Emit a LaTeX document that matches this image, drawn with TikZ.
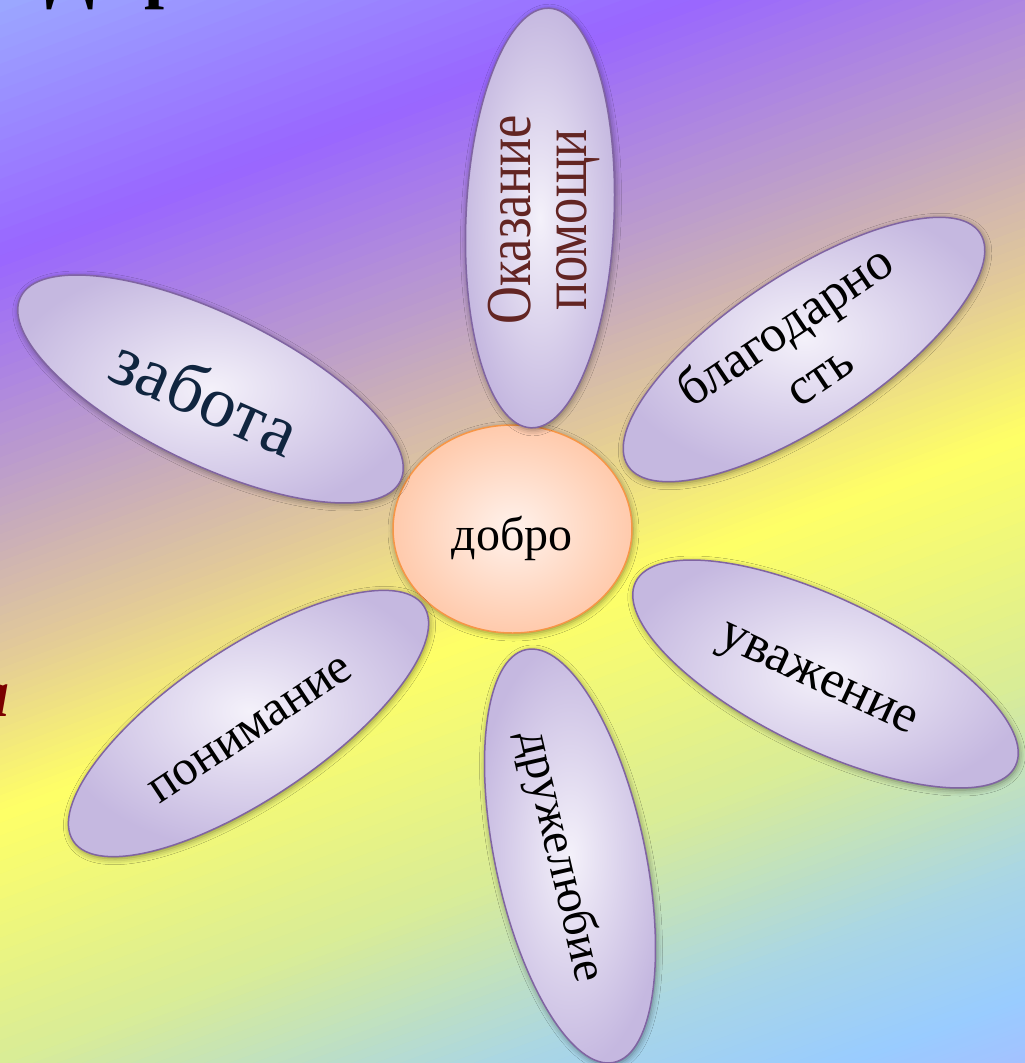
\documentclass[tikz,border=0pt]{standalone}
\usepackage{fontspec}
\setmainfont{Liberation Serif}
\newfontfamily\narrowserif[FakeStretch=0.82]{Liberation Serif}
\usetikzlibrary{shapes.geometric, shadows.blur}
\definecolor{bgA}{RGB}{155,168,255}
\definecolor{bgB}{RGB}{153,102,255}
\definecolor{bgC}{RGB}{190,160,200}
\definecolor{bgD}{RGB}{228,204,150}
\definecolor{bgE}{RGB}{255,255,102}
\definecolor{bgF}{RGB}{216,236,152}
\definecolor{bgG}{RGB}{170,214,228}
\definecolor{bgH}{RGB}{153,204,255}
\definecolor{bgI}{RGB}{168,188,255}
\definecolor{petalIn}{RGB}{244,241,250}
\definecolor{petalOut}{RGB}{197,184,224}
\definecolor{petalEdge}{RGB}{128,100,162}
\definecolor{heartIn}{RGB}{255,242,236}
\definecolor{heartOut}{RGB}{255,202,172}
\definecolor{heartEdge}{RGB}{247,150,70}
\definecolor{xNavy}{RGB}{16,37,63}
\definecolor{xBrown}{RGB}{99,37,35}
\definecolor{xMaroon}{RGB}{122,0,0}
\tikzset{
  petal/.style={ellipse, draw=petalEdge, line width=1.5pt, inner color=petalIn, outer color=petalOut,
                minimum width=422pt, minimum height=150pt, inner sep=0pt,
                blur shadow={shadow xshift=1pt, shadow yshift=-2pt, shadow blur radius=6pt, shadow opacity=45}},
  heart/.style={ellipse, draw=heartEdge, line width=1.5pt, inner color=heartIn, outer color=heartOut,
                minimum width=239pt, minimum height=208pt, inner sep=0pt,
                blur shadow={shadow xshift=1pt, shadow yshift=-2pt, shadow blur radius=6pt, shadow opacity=45}},
  word/.style={align=center, inner sep=0pt},
}
\newcommand{\bgband}[4]{%
  \foreach \k in {0,...,19}{
    \pgfmathsetmacro{\sa}{#1+(#2-#1)*\k/20}
    \pgfmathsetmacro{\sb}{#1+(#2-#1)*(\k+1)/20+1}
    \pgfmathtruncatemacro{\pc}{100*(\k+0.5)/20}
    \fill[#4!\pc!#3] (\sa,-1100) rectangle (\sb,500);
  }%
}

\begin{document}
\begin{tikzpicture}[x=1pt, y=-1pt]
    \useasboundingbox (0,0) rectangle (1025,1063);
    \clip (0,0) rectangle (1025,1063);
    \begin{scope}[rotate=-69.7]
      \bgband{0}{240}{bgA}{bgB}
      \bgband{240}{450}{bgB}{bgC}
      \bgband{450}{620}{bgC}{bgD}
      \bgband{620}{760}{bgD}{bgE}
      \bgband{760}{1000}{bgE}{bgF}
      \bgband{1000}{1170}{bgF}{bgG}
      \bgband{1170}{1290}{bgG}{bgH}
      \bgband{1290}{1380}{bgH}{bgI}
    \end{scope}
    \node[word, anchor=base west, font=\bfseries\fontsize{72}{80}\selectfont] (title) at (45,-6) {Д\kern 50pt р};
    \node[word, anchor=base east, text=xMaroon, font=\bfseries\itshape\fontsize{68}{76}\selectfont] (side) at (10,716) {а};
    \node[heart] (dobro) at (512.5,529) {};
    \node[petal, rotate=87.5, minimum width=420pt, minimum height=148pt] (help) at (540,218) {};
    \node[petal, rotate=33.5]  (blag)  at (804,349.5) {};
    \node[petal, rotate=-25.8] (zabota) at (210.5,389) {};
    \node[petal, rotate=-25.8] (uvazh) at (825.5,674) {};
    \node[petal, rotate=-78]   (druzh) at (570,856) {};
    \node[petal, rotate=33.9]  (ponim) at (248.5,723.5) {};
    \node[word, font=\fontsize{48}{56}\selectfont] (dobroT) at (512,538) {добро};
    \node[word, rotate=90, text=xBrown, font=\narrowserif\fontsize{64}{56}\selectfont] (helpT) at (544,220) {Оказание\\помощи};
    \node[word, rotate=34, font=\fontsize{52}{60}\selectfont] (blagT) at (801,349) {благодарно\\сть};
    \node[word, rotate=-24, text=xNavy, font=\fontsize{72}{80}\selectfont] (zabotaT) at (206,395) {забота};
    \node[word, rotate=-25, font=\fontsize{53}{60}\selectfont] (uvazhT) at (816,683) {уважение};
    \node[word, rotate=-77, font=\fontsize{48}{56}\selectfont] (druzhT) at (560,857) {дружелюбие};
    \node[word, rotate=33.5, font=\fontsize{50}{56}\selectfont] (ponimT) at (251,730) {понимание};
  \end{tikzpicture}
\end{document}
